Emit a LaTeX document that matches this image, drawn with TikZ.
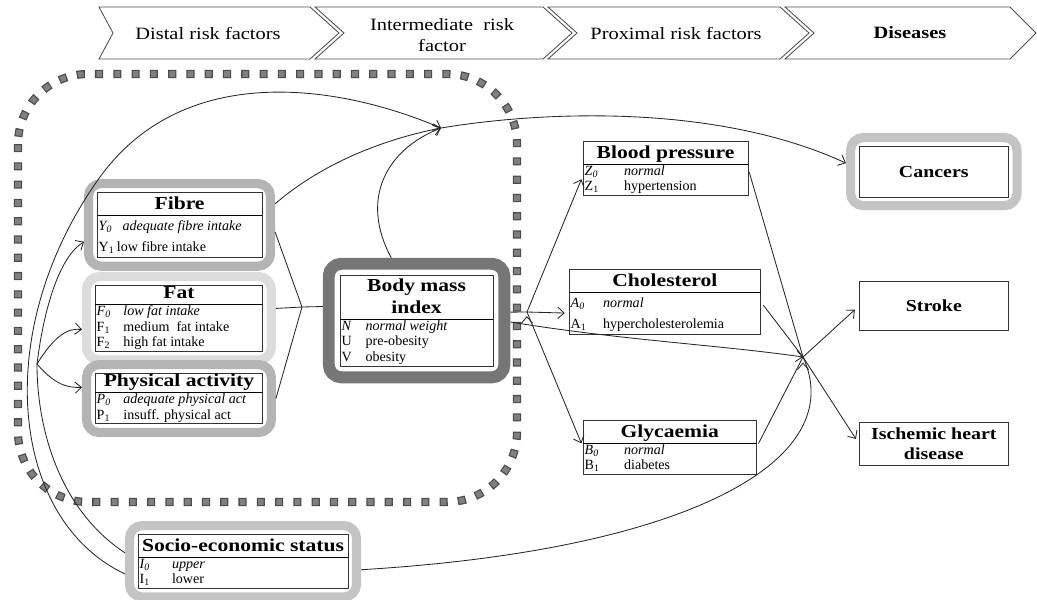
\documentclass[tikz,border=0pt]{standalone}
\usepackage{fontspec}
\setmainfont{Liberation Serif}
\newfontfamily\widefont{Liberation Serif}[FakeStretch=1.18]
\usetikzlibrary{arrows,arrows.meta,shapes,positioning,fit}

\definecolor{ringdark}{RGB}{118,118,118}
\definecolor{ringmid}{RGB}{180,180,180}
\definecolor{ringlight}{RGB}{196,196,196}
\definecolor{ringpale}{RGB}{220,220,220}

\newcommand{\hdrfont}{\widefont\fontsize{12.3}{15.5}\selectfont}
\newcommand{\ttlfont}{\widefont\bfseries\fontsize{13}{14}\selectfont}
\newcommand{\dzfont}{\widefont\bfseries\fontsize{12}{14}\selectfont}
\newcommand{\rowfont}{\fontsize{10}{11}\selectfont}
\newcommand{\ttl}[2]{\multicolumn{1}{@{}c@{}}{\rule[-4pt]{0pt}{#1}\ttlfont #2}}
\newcommand{\lab}[2]{\hspace*{1pt}\makebox[#1][l]{#2}}
\newcommand{\tallrow}{\rule[-4.5pt]{0pt}{15pt}}

\tikzset{
  chevron/.style={draw=black!70, line width=0.6pt},
  hdr/.style={font=\hdrfont, align=center},
  dotframe/.style={draw=black!70, line width=5.8pt, dash pattern=on 5.8pt off 7.2pt, rounded corners=1.75cm},
  dotfill/.style={draw=black!50, line width=4pt, dash pattern=on 4pt off 9pt, dash phase=12.1pt, rounded corners=1.75cm},
  riskbox/.style={draw=black!80, fill=white, inner sep=0pt, anchor=north west, font=\rowfont},
  diseasebox/.style={draw=black!80, fill=white, inner sep=2pt, anchor=north west, align=center, font=\dzfont, minimum width=106pt},
  ringframe/.style={draw=#1, line width=6.5pt, rounded corners=9pt, inner sep=6pt},
  link/.style={draw=black!85, line width=0.6pt},
}

\begin{document}
\begin{tikzpicture}[x=0.025cm, y=-0.025cm, >={Straight Barb[length=4.5pt,width=8pt]}]
    \useasboundingbox (0,0) rectangle (1037,599);

    % header
    \draw[chevron] (99,7) -- (310,7) -- (339,33) -- (310,59) -- (99,59) -- (113,33) -- cycle;
    \draw[chevron] (315,7) -- (543,7) -- (572,33) -- (543,59) -- (315,59) -- (344,33) -- cycle;
    \draw[chevron] (548,7) -- (780,7) -- (809,33) -- (780,59) -- (548,59) -- (577,33) -- cycle;
    \draw[chevron] (785,7) -- (1010,7) -- (1036,33) -- (1010,59) -- (785,59) -- (814,33) -- cycle;
    \node[hdr] (hdistal) at (208,33) {Distal risk factors};
    \node[hdr] (hinter) at (442,35) {Intermediate\ \ risk\\factor};
    \node[hdr] (hprox) at (676,33) {Proximal risk factors};
    \node[hdr, font=\hdrfont\bfseries] (hdis) at (910,33) {Diseases};

    \draw[dotframe] (18,74) rectangle (517,502);
    \draw[dotfill] (18,74) rectangle (517,502);

    % distal risk factors
    \node[riskbox] (fibre) at (97,192) {\begin{tabular}{@{}p{117pt}@{}}
        \ttl{16pt}{Fibre}\\\hline
        \tallrow\lab{17pt}{\textit{Y\textsubscript{0}}}\textit{adequate fibre intake}\\
        \tallrow\lab{13pt}{Y\textsubscript{1}}low fibre intake
    \end{tabular}};
    \node[riskbox] (fat) at (95,285) {\begin{tabular}{@{}p{119pt}@{}}
        \ttl{13.5pt}{Fat}\\\hline
        \lab{19pt}{\textit{F\textsubscript{0}}}\textit{low fat intake}\\
        \lab{19pt}{F\textsubscript{1}}medium\ \ fat intake\\
        \lab{19pt}{F\textsubscript{2}}high fat intake
    \end{tabular}};
    \node[riskbox] (physact) at (95,373) {\begin{tabular}{@{}p{119pt}@{}}
        \ttl{13.5pt}{Physical activity}\\\hline
        \lab{19pt}{\textit{P\textsubscript{0}}}\textit{adequate physical act}\\
        \lab{19pt}{P\textsubscript{1}}insuff. physical act
    \end{tabular}};
    \node[riskbox] (ses) at (138,534) {\begin{tabular}{@{}p{149pt}@{}}
        \ttl{16pt}{Socio-economic status}\\\hline
        \lab{23pt}{\textit{I\textsubscript{0}}}\textit{upper}\\
        \lab{23pt}{I\textsubscript{1}}lower
    \end{tabular}};

    % intermediate risk factor
    \node[riskbox] (bmi) at (340,275) {\begin{tabular}{@{}p{108.5pt}@{}}
        \ttl{15.5pt}{Body mass}\\
        \ttl{15.5pt}{index}\\\hline
        \lab{17pt}{\textit{N}}\textit{normal weight}\\
        \lab{17pt}{U}pre-obesity\\
        \lab{17pt}{V}obesity
    \end{tabular}};

    % proximal risk factors
    \node[riskbox] (bloodp) at (583,141) {\begin{tabular}{@{}p{117pt}@{}}
        \ttl{16pt}{Blood pressure}\\\hline
        \lab{28pt}{\textit{Z\textsubscript{0}}}\textit{normal}\\
        \lab{28pt}{Z\textsubscript{1}}hypertension
    \end{tabular}};
    \node[riskbox] (chol) at (569,269) {\begin{tabular}{@{}p{136pt}@{}}
        \ttl{16pt}{Cholesterol}\\\hline
        \tallrow\lab{23pt}{\textit{A\textsubscript{0}}}\textit{normal}\\
        \tallrow\lab{23pt}{A\textsubscript{1}}hypercholesterolemia
    \end{tabular}};
    \node[riskbox] (glyc) at (583,420) {\begin{tabular}{@{}p{123pt}@{}}
        \ttl{16pt}{Glycaemia}\\\hline
        \lab{28pt}{\textit{B\textsubscript{0}}}\textit{normal}\\
        \lab{28pt}{B\textsubscript{1}}diabetes
    \end{tabular}};

    % diseases
    \node[diseasebox, minimum height=36pt] (cancers) at (859,146) {Cancers};
    \node[diseasebox, minimum height=35pt] (stroke) at (859,281) {Stroke};
    \node[diseasebox, minimum height=30.5pt] (ihd) at (859,422) {Ischemic heart\\disease};

    \node[ringframe=ringmid, fit=(fibre)] (fibreframe) {};
    \node[ringframe=ringpale, fit=(fat)] (fatframe) {};
    \node[ringframe=ringmid, fit=(physact)] (physframe) {};
    \node[ringframe=ringlight, fit=(ses)] (sesframe) {};
    \node[ringframe=ringdark, line width=8.5pt, inner sep=8pt, fit=(bmi)] (bmiframe) {};
    \node[ringframe=ringlight, fit=(cancers)] (cancersframe) {};

    \coordinate (hub) at (441,128);
    \coordinate (split) at (37,364);
    \coordinate (merge) at (302,307);
    \coordinate (bmiout) at (527,312);
    \coordinate (cross) at (803,357);

    \draw[link] ([yshift=6pt]sesframe.west) .. controls (60,510) and (37,430) .. (split);
    \draw[link,->] (split) .. controls (45,300) and (62,255) .. ([yshift=-12pt]fibreframe.west);
    \draw[link,->] (split) .. controls (55,335) and (68,328) .. ([yshift=-8pt]fatframe.west);
    \draw[link,->] (split) .. controls (55,385) and (68,388) .. ([yshift=8pt]physframe.west);
    \draw[link,->] ([yshift=-9pt]sesframe.west) .. controls (10,520) and (-10,330) .. (100,177)
        .. controls (185,60) and (340,85) .. (hub);
    \draw[link,->] ([yshift=15pt]fibreframe.east) .. controls (320,165) and (380,140) .. (hub);
    \draw[link,->] ([xshift=-18pt]bmiframe.north) .. controls (360,200) and (385,150) .. (hub);
    \draw[link,->] (hub) .. controls (550,110) and (720,105) .. ([yshift=6pt]cancersframe.west);

    \path[link] ([yshift=-5pt]fibreframe.east) edge (merge)
        ([yshift=7pt]fatframe.east) edge (merge)
        (physframe.east) edge (merge)
        (merge) edge ([yshift=10pt]bmiframe.west)
        ([yshift=6pt]bmiframe.east) edge (bmiout);
    \path[link,->,shorten >=3pt] (bmiout) edge ([yshift=-5pt]bloodp.west)
        (bmiout) edge ([yshift=-8pt]chol.west)
        (bmiout) edge (glyc.west);

    \draw[link,->] ([yshift=-1pt]bmiframe.east) .. controls (620,340) and (720,345) .. (cross);
    \path[link,shorten <=3pt] (bloodp.east) edge (cross)
        (chol.east) edge (cross)
        (glyc.east) edge (cross);
    \draw[link] ([yshift=-6pt]sesframe.east) .. controls (690,550) and (850,460) .. (cross);
    \path[link,->,shorten >=4pt] (cross) edge (stroke.west)
        (cross) edge (ihd.west);
\end{tikzpicture}
\end{document}
